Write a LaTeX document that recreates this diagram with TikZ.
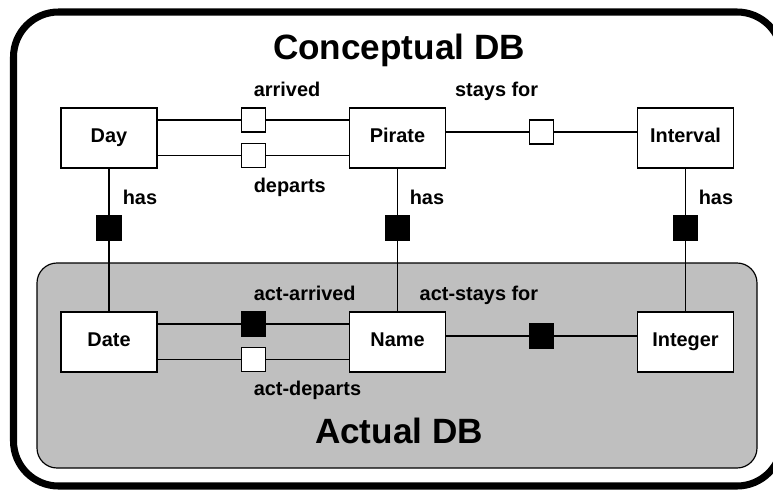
\documentclass[tikz,border=0pt]{standalone}
\usepackage{fontspec}
\setmainfont{Liberation Sans}

\begin{document}
\begin{tikzpicture}[x=0.03cm,y=-0.03cm,line width=1.4pt]
\tikzstyle{every node}=[font=\bfseries\fontsize{17}{19}\selectfont]
\tikzstyle{entity}=[draw,fill=white,minimum width=2.88cm,minimum height=1.8cm,inner sep=0pt,text height=0.72em,text depth=0pt]
\tikzstyle{rel}=[draw,fill=white,minimum size=0.72cm,inner sep=0pt]
\tikzstyle{actrel}=[draw,fill=black,minimum size=0.72cm,inner sep=0pt]
\tikzstyle{lbl}=[anchor=base west,inner sep=0pt]
\tikzstyle{title}=[font=\bfseries\fontsize{30}{34}\selectfont,anchor=base,inner sep=0pt]
\useasboundingbox (0,0) rectangle (773,490);
\begin{scope}
\clip (0,0) rectangle (773,490);
\draw[line width=6pt,rounded corners=1.35cm] (13.5,12) rectangle (782,486);
\end{scope}
\draw[fill=gray!50,line width=1pt,rounded corners=0.6cm] (37,263) rectangle (757,468);
% entities
\draw (109,138) node (day) [entity] {Day};
\draw (397.5,138) node (pirate) [entity] {Pirate};
\draw (685.5,138) node (interval) [entity] {Interval};
\draw (109,342) node (date) [entity] {Date};
\draw (397.5,342) node (name) [entity] {Name};
\draw (685.5,342) node (integer) [entity] {Integer};
% relationship squares
\draw (253.5,120) node (arr) [rel] {};
\draw (253.5,155.5) node (dep) [rel] {};
\draw (541.5,132) node (stay) [rel] {};
\draw (253.5,324) node (actarr) [actrel] {};
\draw (253.5,359.5) node (actdep) [rel] {};
\draw (541.5,336) node (actstay) [actrel] {};
\draw (109,228) node (hasday) [actrel] {};
\draw (397.5,228) node (haspirate) [actrel] {};
\draw (685.5,228) node (hasinterval) [actrel] {};
% connectors
\draw (day.east |- arr) -- (arr);
\draw (arr) -- (pirate.west |- arr);
\draw (day.east |- dep) -- (dep);
\draw (dep) -- (pirate.west |- dep);
\draw (pirate.east |- stay) -- (stay);
\draw (stay) -- (interval.west |- stay);
\draw (date.east |- actarr) -- (actarr);
\draw (actarr) -- (name.west |- actarr);
\draw (date.east |- actdep) -- (actdep);
\draw (actdep) -- (name.west |- actdep);
\draw (name.east |- actstay) -- (actstay);
\draw (actstay) -- (integer.west |- actstay);
\draw (day) -- (hasday);
\draw (hasday) -- (date);
\draw (pirate) -- (haspirate);
\draw (haspirate) -- (name);
\draw (interval) -- (hasinterval);
\draw (hasinterval) -- (integer);
% labels
\draw (253,96) node (larr) [lbl] {arrived};
\draw (253,192) node (ldep) [lbl] {departs};
\draw (539,96) node (lstay) [lbl,anchor=base east] {stays for};
\draw (122,204) node (lhasday) [lbl] {has};
\draw (409,204) node (lhaspirate) [lbl] {has};
\draw (698,204) node (lhasinterval) [lbl] {has};
\draw (253,300) node (lactarr) [lbl] {act-arrived};
\draw (253,395) node (lactdep) [lbl] {act-departs};
\draw (539,300) node (lactstay) [lbl,anchor=base east] {act-stays for};
\draw (399,59) node (concept) [title] {Conceptual DB};
\draw (399,443) node (actual) [title] {Actual DB};
\end{tikzpicture}
\end{document}
